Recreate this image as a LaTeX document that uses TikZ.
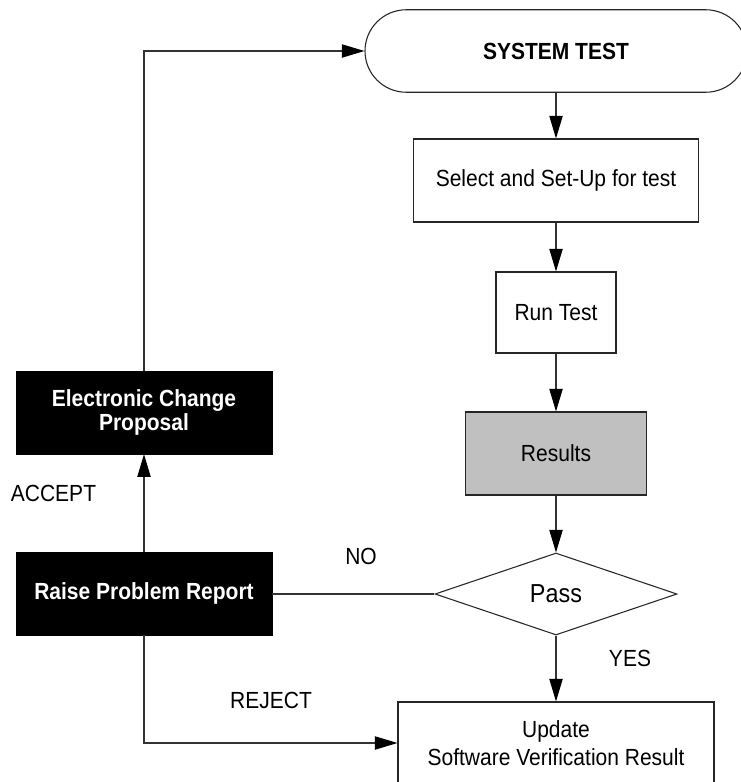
\documentclass[tikz,border=0pt]{standalone}
\usepackage{fontspec}
\setmainfont[FakeStretch=0.9]{Liberation Sans}
\usetikzlibrary{arrows.meta,shapes.geometric}
\newdimen\pxu \pxu=0.75pt
\begin{document}
\begin{tikzpicture}[x=0.75pt,y=-0.75pt,
  every node/.style={font=\fontsize{17.5}{21}\selectfont, inner sep=0pt, align=center},
  plainbox/.style={draw=black!85, line width=0.8pt, fill=white, rectangle},
  darkbox/.style={draw=black, fill=black, text=white, rectangle, font=\fontsize{17.5}{17.5}\selectfont\bfseries},
  conn/.style={draw=black!80, line width=0.8pt},
  arr/.style={conn, -{Triangle[length=17pt,width=10pt,color=black]}},
  lbl/.style={font=\fontsize{17.5}{21}\selectfont}
]
\useasboundingbox (0,0) rectangle (741,782);
\clip (0,0) rectangle (741,782);

\node[plainbox, minimum width=382\pxu, minimum height=82.5\pxu, rounded corners=41.25\pxu, font=\fontsize{17.5}{21}\selectfont\bfseries] (st) at (556,51) {SYSTEM TEST};
\node[plainbox, minimum width=285\pxu, minimum height=83\pxu] (sel) at (556,180.5) {Select and Set-Up for test};
\node[plainbox, minimum width=120\pxu, minimum height=81\pxu] (run) at (556,312.5) {Run Test};
\node[plainbox, fill={rgb,255:red,192;green,192;blue,192}, minimum width=181\pxu, minimum height=83\pxu] (res) at (556,453.5) {Results};
\node[plainbox, diamond, minimum width=242\pxu, minimum height=82\pxu, font=\fontsize{19.5}{21}\selectfont] (pass) at (556,594) {Pass};
\node[plainbox, minimum width=316\pxu, minimum height=82\pxu, font=\fontsize{17.5}{21}\selectfont] (upd) at (556,743) {Update\\Software Verification Result};
\node[darkbox, minimum width=256\pxu, minimum height=83\pxu] (ecp) at (144,412.5) {Electronic Change\\Proposal};
\node[darkbox, minimum width=256\pxu, minimum height=83\pxu] (rpr) at (144,593.5) {Raise Problem Report};

\node[lbl] (acc) at (53.5,493) {ACCEPT};
\node[lbl] (rej) at (271,700) {REJECT};
\node[lbl] (no) at (361,556) {NO};
\node[lbl] (yes) at (630,658) {YES};

\draw[arr] (st.south) -- (sel.north);
\draw[arr] (sel.south) -- (run.north);
\draw[arr] (run.south) -- (res.south |- res.north);
\draw[arr] (res.south) -- (pass.north);
\draw[arr] (pass.south) -- (upd.north);
\draw[conn] (pass.west) -- (pass.west -| rpr.east);
\draw[arr] (rpr.north) -- (ecp.south);
\draw[arr] (ecp.north) |- (st.west);
\draw[arr] (rpr.south) |- (upd.west);
\end{tikzpicture}
\end{document}
